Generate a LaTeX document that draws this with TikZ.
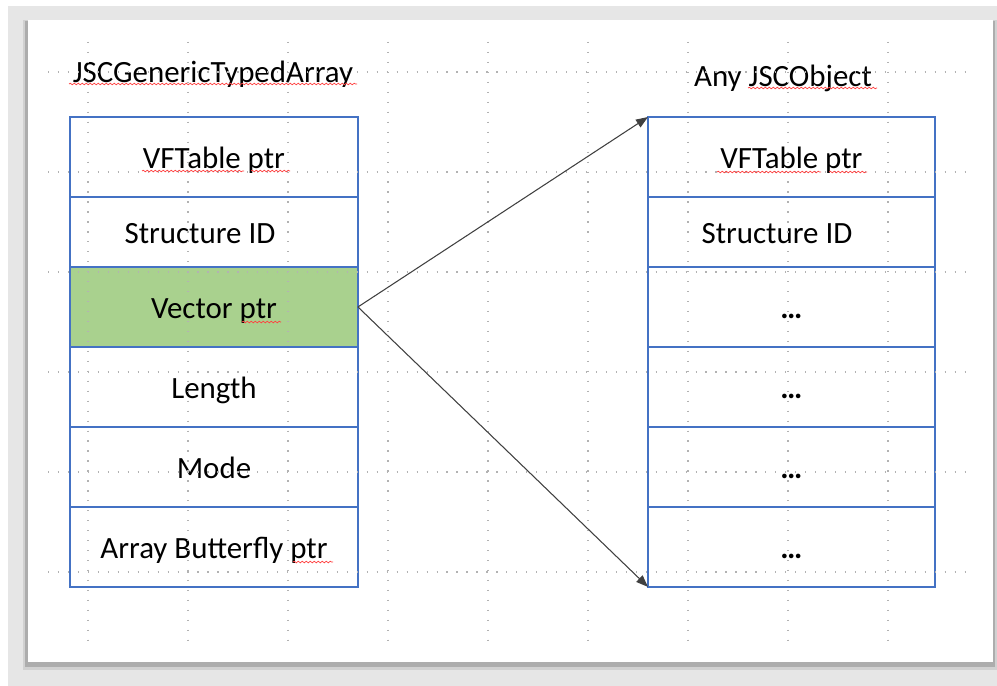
\documentclass[tikz,border=0pt]{standalone}
\usepackage{fontspec}
\setmainfont{Carlito}
\usetikzlibrary{positioning,arrows.meta,decorations.pathmorphing}

\definecolor{cellblue}{RGB}{68,114,196}
\definecolor{vecgreen}{RGB}{169,209,142}
\definecolor{pagegrey}{RGB}{230,230,230}

\tikzset{
  cell/.style={draw=cellblue, line width=0.75pt, outer sep=0pt, inner sep=0pt,
    minimum width=5.76cm, minimum height=1.6cm, text height=0.55cm, text depth=0.07cm,
    font=\fontsize{17.6}{20}\selectfont},
  short/.style={minimum height=1.4cm},
  title/.style={font=\fontsize{17.6}{20}\selectfont, inner sep=0pt},
  gridline/.style={black!30, line width=0.7pt, dash pattern=on 0.7pt off 4.97pt},
  link/.style={black!75, line width=0.6pt, -{Triangle[length=0.24cm,width=0.18cm]}},
  spell/.style={red!75, line width=0.4pt, decorate,
    decoration={snake, amplitude=0.016cm, segment length=0.08cm}}
}

\begin{document}
\begin{tikzpicture}[x=0.02cm, y=-0.02cm]
  \useasboundingbox (0,0) rectangle (997,686);
  \fill[white] (0,0) rectangle (997,686);
  \fill[pagegrey] (8,6) rectangle (997,686);
  % page and its shadow
  \fill[black!18] (23,20) rectangle (997,670);
  \fill[black!32] (25,21) rectangle (995,667);
  \fill[white] (28,20) rectangle (993,662);

  % JSCGenericTypedArray
  \node[title] (ltitle) at (213,74) {JSCGenericTypedArray};
  \node[cell, anchor=north west] (lvf) at (70,117) {VFTable ptr};
  \node[cell, short, below=0pt of lvf] (lsid) {Structure ID\hspace*{0.56cm}};
  \node[cell, fill=vecgreen, below=0pt of lsid] (lvec) {Vector ptr};
  \node[cell, below=0pt of lvec] (llen) {Length};
  \node[cell, below=0pt of llen] (lmode) {Mode};
  \node[cell, below=0pt of lmode] (lbfly) {Array Butterfly ptr};

  % Any JSCObject
  \node[title] (rtitle) at (783,78) {Any JSCObject};
  \node[cell, minimum width=5.74cm, anchor=north west] (rvf) at (648,117) {VFTable ptr};
  \node[cell, short, minimum width=5.74cm, below=0pt of rvf] (rsid) {Structure ID\hspace*{0.58cm}};
  \node[cell, minimum width=5.74cm, below=0pt of rsid] (rdots1) {\textbf{…}};
  \node[cell, minimum width=5.74cm, below=0pt of rdots1] (rdots2) {\textbf{…}};
  \node[cell, minimum width=5.74cm, below=0pt of rdots2] (rdots3) {\textbf{…}};
  \node[cell, minimum width=5.74cm, below=0pt of rdots3] (rdots4) {\textbf{…}};

  \draw[cellblue, line width=1.3pt] (lvec.north west) -- (lvec.north east);
  \draw[cellblue, line width=1.3pt] (rdots1.north west) -- (rdots1.north east);

  % grid
  \foreach \x in {88,188,...,888}
    \draw[gridline] (\x,42) -- (\x,645);
  \foreach \y in {72,172,...,572}
    \draw[gridline] (48,\y) -- (972,\y);

  \draw[link] (lvec.east) -- (rvf.north west);
  \draw[link] (lvec.east) -- (rdots4.south west);

  % spell check marks
  \draw[spell] (69,84) -- (357,84);
  \draw[spell] (142,171) -- (244,171);
  \draw[spell] (251,171) -- (290,171);
  \draw[spell] (748,88) -- (877,88);
  \draw[spell] (717,172) -- (821,172);
  \draw[spell] (829,172) -- (867,172);
  \draw[spell] (242,322) -- (281,322);
  \draw[spell] (293,562) -- (333,562);
\end{tikzpicture}
\end{document}
